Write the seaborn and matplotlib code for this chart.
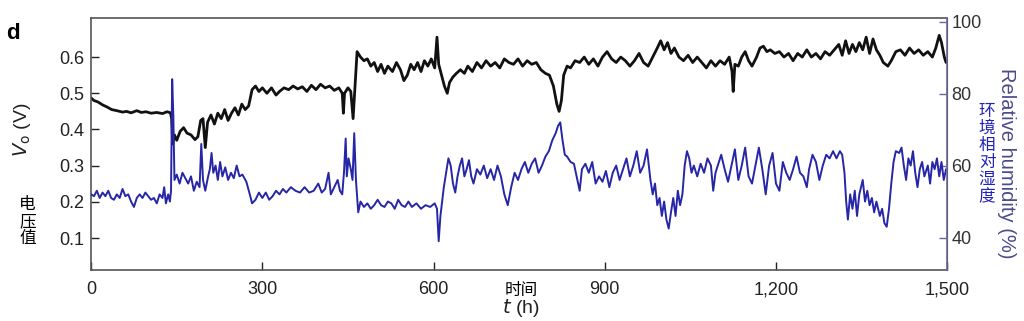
import numpy as np
import pandas as pd
import seaborn as sns
import matplotlib
matplotlib.use("Agg")
import matplotlib.pyplot as plt

# output voltage V_o (V)
t_vo = [0, 5, 12, 20, 28, 36, 45, 55, 62, 70, 80, 88, 96, 105, 115, 125, 133, 139, 141, 143,
        146, 150, 156, 162, 168, 175, 182, 187, 192, 196, 200, 204, 210, 216, 222, 228, 234, 240, 246, 252,
        258, 264, 270, 276, 282, 288, 294, 300, 308, 316, 324, 330, 338, 346, 354, 362, 370, 378, 386, 394,
        402, 410, 418, 426, 434, 440, 442, 444, 450, 455, 459, 462, 466, 472, 478, 484, 490, 496, 502, 508,
        514, 520, 528, 535, 542, 548, 554, 560, 566, 572, 578, 584, 590, 596, 602, 606, 609, 614, 619, 624,
        628, 634, 640, 647, 654, 660, 668, 676, 684, 692, 700, 708, 716, 724, 732, 740, 748, 756, 764, 772,
        780, 788, 796, 803, 810, 816, 820, 824, 828, 834, 840, 848, 856, 864, 872, 880, 888, 896, 904, 912,
        920, 928, 936, 944, 952, 960, 968, 976, 984, 992, 998, 1004, 1010, 1016, 1022, 1030, 1038, 1046, 1054, 1062,
        1070, 1078, 1086, 1094, 1102, 1110, 1118, 1123, 1125, 1128, 1134, 1140, 1146, 1152, 1158, 1166, 1172, 1178, 1184, 1190,
        1198, 1206, 1214, 1222, 1230, 1238, 1246, 1254, 1262, 1270, 1278, 1286, 1294, 1302, 1310, 1316, 1322, 1328, 1334, 1340,
        1346, 1352, 1358, 1364, 1370, 1376, 1382, 1388, 1396, 1402, 1410, 1418, 1426, 1434, 1442, 1450, 1458, 1466, 1474, 1480,
        1486, 1490, 1495, 1498]
vo = [0.487, 0.48, 0.476, 0.468, 0.462, 0.455, 0.452, 0.448, 0.450, 0.446, 0.452, 0.447, 0.449, 0.445, 0.447, 0.444, 0.449, 0.446, 0.43, 0.36,
      0.385, 0.37, 0.395, 0.405, 0.39, 0.385, 0.372, 0.38, 0.425, 0.43, 0.35, 0.42, 0.44, 0.415, 0.445, 0.43, 0.455, 0.425, 0.445, 0.46,
      0.44, 0.47, 0.455, 0.465, 0.51, 0.52, 0.505, 0.515, 0.50, 0.515, 0.495, 0.505, 0.515, 0.51, 0.52, 0.512, 0.518, 0.505, 0.522, 0.51,
      0.525, 0.515, 0.52, 0.508, 0.515, 0.50, 0.445, 0.50, 0.515, 0.505, 0.43, 0.51, 0.615, 0.60, 0.59, 0.595, 0.575, 0.585, 0.56, 0.58,
      0.555, 0.575, 0.56, 0.585, 0.565, 0.535, 0.55, 0.58, 0.565, 0.585, 0.56, 0.59, 0.575, 0.595, 0.57, 0.655, 0.58, 0.55, 0.52, 0.50,
      0.53, 0.545, 0.555, 0.565, 0.555, 0.575, 0.56, 0.585, 0.57, 0.59, 0.575, 0.585, 0.57, 0.595, 0.585, 0.58, 0.595, 0.575, 0.59, 0.58,
      0.585, 0.565, 0.555, 0.55, 0.52, 0.47, 0.45, 0.48, 0.55, 0.575, 0.57, 0.59, 0.585, 0.60, 0.58, 0.595, 0.575, 0.60, 0.615, 0.595,
      0.585, 0.60, 0.59, 0.575, 0.59, 0.61, 0.585, 0.575, 0.60, 0.625, 0.645, 0.62, 0.64, 0.61, 0.625, 0.60, 0.59, 0.605, 0.585, 0.60,
      0.585, 0.57, 0.59, 0.575, 0.59, 0.58, 0.60, 0.56, 0.505, 0.58, 0.575, 0.60, 0.615, 0.59, 0.575, 0.60, 0.625, 0.63, 0.615, 0.62,
      0.61, 0.615, 0.60, 0.61, 0.59, 0.61, 0.60, 0.62, 0.60, 0.61, 0.595, 0.615, 0.605, 0.62, 0.635, 0.605, 0.645, 0.61, 0.635, 0.615,
      0.64, 0.62, 0.655, 0.61, 0.65, 0.62, 0.605, 0.585, 0.575, 0.59, 0.615, 0.62, 0.605, 0.625, 0.61, 0.62, 0.605, 0.615, 0.60, 0.625,
      0.66, 0.64, 0.60, 0.585]

# relative humidity (%)
t_rh = [0, 5, 10, 15, 20, 25, 30, 35, 40, 45, 50, 55, 60, 65, 70, 75, 80, 85, 90, 95,
        100, 105, 110, 115, 120, 125, 128, 131, 135, 138, 140, 142, 144, 146, 150, 155, 160, 165, 170, 175,
        180, 185, 190, 193, 196, 200, 205, 208, 211, 214, 218, 222, 226, 230, 235, 240, 245, 250, 255, 260,
        265, 272, 278, 282, 288, 294, 300, 306, 312, 318, 324, 330, 336, 342, 350, 358, 366, 374, 382, 390,
        398, 404, 410, 416, 420, 426, 432, 436, 440, 443, 446, 448, 451, 455, 458, 461, 464, 468, 472, 478,
        484, 490, 496, 502, 508, 514, 520, 526, 532, 538, 544, 550, 556, 562, 570, 578, 586, 594, 602, 606,
        609, 612, 618, 622, 626, 630, 634, 638, 642, 646, 650, 654, 658, 662, 666, 670, 676, 682, 688, 694,
        700, 706, 712, 718, 724, 730, 736, 742, 748, 754, 760, 766, 772, 778, 784, 790, 796, 802, 808, 814,
        818, 822, 826, 830, 834, 840, 846, 852, 856, 860, 866, 872, 878, 884, 890, 896, 902, 908, 914, 920,
        926, 932, 938, 944, 950, 956, 962, 968, 974, 980, 984, 988, 992, 996, 1000, 1004, 1008, 1012, 1016, 1020,
        1024, 1028, 1032, 1036, 1040, 1044, 1048, 1052, 1056, 1062, 1068, 1074, 1080, 1086, 1090, 1094, 1098, 1104, 1110, 1116,
        1122, 1128, 1134, 1140, 1146, 1152, 1158, 1164, 1170, 1176, 1182, 1188, 1194, 1200, 1206, 1212, 1218, 1224, 1230, 1236,
        1242, 1248, 1254, 1258, 1264, 1270, 1276, 1282, 1288, 1294, 1300, 1306, 1312, 1316, 1320, 1323, 1326, 1330, 1334, 1338,
        1342, 1346, 1352, 1356, 1360, 1364, 1368, 1372, 1376, 1382, 1386, 1390, 1394, 1398, 1402, 1406, 1410, 1416, 1420, 1424,
        1428, 1432, 1436, 1440, 1444, 1448, 1452, 1456, 1460, 1466, 1470, 1474, 1478, 1482, 1486, 1490, 1494, 1498]
rh = [52, 51.5, 53, 51, 52.5, 51.5, 53, 51, 50.5, 52, 51, 53.5, 51.5, 52, 50, 48.5, 51, 52, 51, 52.5,
      51.5, 50.5, 51, 49.5, 52, 51, 54, 49.5, 52, 50, 53, 84, 74, 56, 57.5, 55, 58, 56.5, 55, 57,
      53, 55.5, 54, 66, 56, 53, 57, 59, 63.5, 58, 60, 56, 61, 57, 59.5, 56, 58, 56.5, 60, 57,
      57.5, 55.5, 52, 49.5, 50.5, 52.5, 51, 52.5, 50.5, 51.5, 53, 52, 53.5, 52.5, 54, 53, 52.5, 54, 52.5, 53,
      55, 52.5, 53.5, 58, 52, 54, 56, 53, 52, 58, 67.5, 57, 62, 59, 56, 69, 56, 47, 50, 48.5,
      49.5, 48, 49, 50.5, 49, 48.5, 50, 49.5, 48, 50.5, 49, 48.5, 50, 48.5, 49.5, 48, 49, 48.5, 49.5, 48,
      39, 46, 54, 58, 62, 60, 55, 52.5, 57, 60, 62, 57, 59, 61.5, 57, 55, 59, 57.5, 60, 56.5,
      59, 56, 60, 57, 52, 49, 54, 58, 56, 59, 61, 58, 60.5, 62, 58, 60, 62.5, 64, 67, 69,
      71, 72, 67, 63, 62.5, 61, 60.5, 56, 53, 59, 60.5, 58, 61, 55, 57, 55.5, 58.5, 54, 58, 60,
      56, 59, 62, 57, 60, 64, 58, 60, 64.5, 56, 52, 55, 49, 51, 46, 50, 45, 42.5, 47, 51,
      46, 53, 49, 52, 60, 64, 62, 58, 60, 57, 60.5, 58, 62, 60, 53, 58, 60, 63, 59, 55.5,
      60, 64.5, 56, 60, 65, 57, 55, 60, 65, 59, 52, 60, 63.5, 55, 53, 61, 58, 56, 59, 62.5,
      58, 57, 54, 59, 63, 61, 56, 60, 63, 62, 64, 62, 64, 63, 58, 50, 45, 52, 48, 53,
      46, 52, 56, 50, 53, 49, 51, 47, 50, 46, 48, 44, 43, 48, 55, 61, 64, 63.5, 65, 60,
      56, 62, 60, 64, 58, 54, 59, 61, 57, 60, 55, 61, 59, 62, 57, 61, 56, 59]

x_ticks = [0, 300, 600, 900, 1200, 1500]
x_ticklabels = ["0", "300", "600", "900", "1,200", "1,500"]
vo_ticks = [0.1, 0.2, 0.3, 0.4, 0.5, 0.6]
rh_ticks = [40, 60, 80, 100]

sns.set_style("ticks")
plt.rcParams["font.family"] = ["Liberation Sans", "Noto Sans CJK SC", "DejaVu Sans"]
cjk = ["Noto Sans CJK SC", "DejaVu Sans"]

black = "#111111"
blue = "#2626a6"
rh_label_col = "#4b4b8c"

df_vo = pd.DataFrame({"t": t_vo, "vo": vo})
df_rh = pd.DataFrame({"t": t_rh, "rh": rh})

fig = plt.figure(figsize=(10.24, 3.21), dpi=100)
ax = fig.add_axes([0.089, 0.159, 0.836, 0.785])
ax2 = ax.twinx()

sns.lineplot(data=df_vo, x="t", y="vo", ax=ax, color=black, linewidth=2.0, estimator=None)
sns.lineplot(data=df_rh, x="t", y="rh", ax=ax2, color=blue, linewidth=1.4, estimator=None)

ax.set_xlim(0, 1500)
ax.set_ylim(0.012, 0.708)
ax2.set_ylim(31, 101)

ax.set_xticks(x_ticks)
ax.set_xticklabels(x_ticklabels)
ax.set_yticks(vo_ticks)
ax.set_yticklabels([f"{v:.1f}" for v in vo_ticks])
ax2.set_yticks(rh_ticks)

ax.tick_params(axis="both", direction="in", length=6, width=1, labelsize=13, colors="#222222", pad=5)
ax.tick_params(axis="x", pad=8)
ax2.tick_params(axis="y", direction="in", length=6, width=1, labelsize=13, colors="#333333", pad=3)
ax2.tick_params(axis="y", color="#6a6a9a")

for s in ["left", "bottom", "top"]:
    ax.spines[s].set_color("#555555")
    ax.spines[s].set_linewidth(1.2)
ax2.spines["right"].set_color("#6a6a9a")
ax2.spines["right"].set_linewidth(1.2)
for s in ["left", "bottom", "top"]:
    ax2.spines[s].set_visible(False)

ax.set_xlabel("")
ax.set_ylabel("")
ax2.set_ylabel("")

# axis labels
fig.text(0.021, 0.595, r"$V_{\rm o}$ (V)", rotation=90, ha="center", va="center", fontsize=14, color="#222222")
fig.text(0.027, 0.31, "电\n压\n值", ha="center", va="center", fontsize=12, color="black",
         family=cjk, linespacing=1.0)
fig.text(0.509, 0.04, r"$t$ (h)", ha="center", va="center", fontsize=14, color="#222222")
fig.text(0.509, 0.095, "时间", ha="center", va="center", fontsize=12, color="black", family=cjk)
fig.text(0.983, 0.49, "Relative humidity (%)", rotation=-90, ha="center", va="center",
         fontsize=14.5, color=rh_label_col)
fig.text(0.964, 0.52, "环\n境\n相\n对\n湿\n度", ha="center", va="center", fontsize=12,
         color="#2222bb", family=cjk, linespacing=1.0)
fig.text(0.006, 0.895, "d", ha="left", va="center", fontsize=16, fontweight="bold", color="black")

fig.savefig("out.png", dpi=100)
